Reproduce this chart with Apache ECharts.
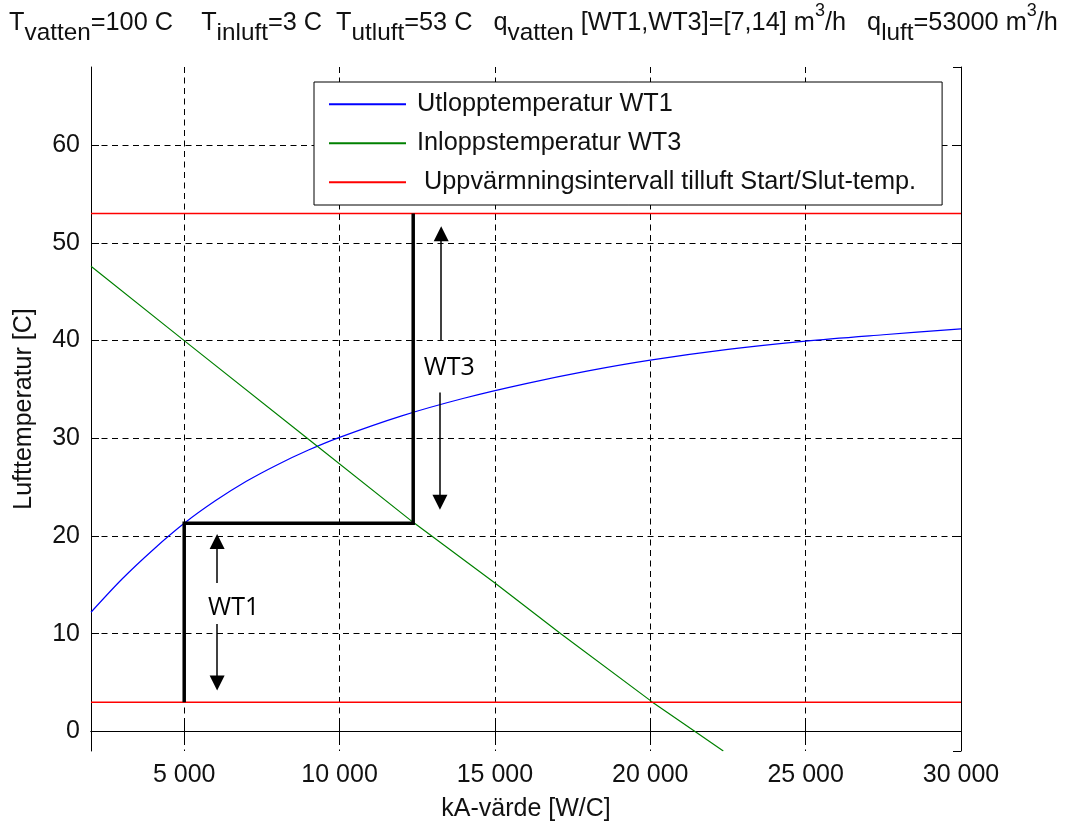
<!DOCTYPE html>
<html><head><meta charset="utf-8">
<script src="https://cdn.jsdelivr.net/npm/echarts@6/dist/echarts.min.js"></script>
<style>html,body{margin:0;padding:0;background:#fff}#c{width:1067px;height:823px}</style>
</head><body><div id="c"></div>
<script>
// ---- data ----
const kaBlue   = [2000,3000,4000,5000,6000,7000,8000,9000,10000,12000,14000,16000,18000,20000,22500,25000,27500,30000];
const tempBlue = [12.2,15.6,18.6,21.3,23.6,25.6,27.3,28.8,30.1,32.3,34.1,35.6,36.9,38.0,39.1,39.95,40.6,41.2];
const kaGreen   = [2000,5000,9000,12370,15000,17120,20070,21440,22350];
const tempGreen = [47.6,40.0,29.9,21.4,15.2,10.0,3.0,0.0,-2.0];
const kaRange = [2000, 30000];
const tempLimits = [3, 53];
const kaPath   = [5000, 5000, 12370, 12370];
const tempPath = [3, 21.3, 21.3, 53];
const arrowKa   = [6060, 6060, 13270, 13230];
const arrowFrom = [15.2, 11.0, 40.0, 34.7];
const arrowTo   = [20.2, 4.2, 51.7, 22.7];
const noteKa   = [6590, 13530];
const noteTemp = [12.6, 37.2];
const noteText = ['WT1', 'WT3'];
const seriesNames = ['Utlopptemperatur WT1', 'Inloppstemperatur WT3', ' Uppvärmningsintervall tilluft Start/Slut-temp.'];
const xMin = 2000, xMax = 30000, yMin = -2, yMax = 68;

// ---- layout ----
const G = {left: 91, right: 106, top: 67, bottom: 72};
const plotH = 823 - G.top - G.bottom;
const arrowSize = 15;
const halfArrowUnits = (arrowSize / 2) * (yMax - yMin) / plotH;

const zip = (a, b) => a.map((v, i) => [v, b[i]]);
const fmt = v => String(v).replace(/\B(?=(\d{3})+(?!\d))/g, ' ');
const FONT = 'Liberation Sans';
const FS = 25;
const txtColor = '#111';

const arrowData = arrowKa.map((x, i) => {
  const dir = Math.sign(arrowTo[i] - arrowFrom[i]);
  return {coords: [[x, arrowFrom[i]], [x, arrowTo[i] - dir * halfArrowUnits]]};
});

const gridDash = {color: '#000', width: 1, type: [6, 4.5]};

const chart = echarts.init(document.getElementById('c'), null, {renderer: 'canvas'});
chart.setOption({
  backgroundColor: '#fff',
  animation: false,
  title: {
    left: 'center', top: 2, padding: 0,
    text: '{m|T}{s|vatten}{m|=100 C    T}{s|inluft}{m|=3 C  T}{s|utluft}{m|=53 C   q}{s|vatten}{m| [WT1,WT3]=[7,14] m}{p|3}{m|/h   q}{s|luft}{m|=53000 m}{p|3}{m|/h}',
    textStyle: {
      fontWeight: 'normal',
      rich: {
        m: {fontFamily: FONT, fontSize: 25.3, fontWeight: 'normal', color: txtColor, lineHeight: 43},
        s: {fontFamily: FONT, fontSize: 24.3, fontWeight: 'normal', color: txtColor, lineHeight: 24, verticalAlign: 'bottom'},
        p: {fontFamily: FONT, fontSize: 18, fontWeight: 'normal', color: txtColor, lineHeight: 26, verticalAlign: 'top'}
      }
    }
  },
  legend: {
    data: seriesNames,
    left: 314, top: 82,
    orient: 'vertical',
    icon: 'rect',
    itemWidth: 77, itemHeight: 2, itemGap: 14,
    padding: [9.8, 26, 10.2, 15],
    borderColor: '#000', borderWidth: 1, backgroundColor: '#fff',
    textStyle: {fontFamily: FONT, fontSize: 25.3, color: txtColor, lineHeight: 25, padding: [0, 0, 0, 6]}
  },
  grid: {left: G.left, right: G.right, top: G.top, bottom: G.bottom, containLabel: false, outerBoundsMode: 'none'},
  xAxis: [{
    type: 'value', min: xMin, max: xMax, position: 'bottom',
    name: 'kA-värde [W/C]', nameLocation: 'middle', nameGap: 46,
    nameTextStyle: {fontFamily: FONT, fontSize: FS, color: txtColor},
    axisLine: {show: true, lineStyle: {color: '#000', width: 1}},
    axisTick: {show: true, inside: true, length: 8, lineStyle: {color: '#000'}},
    axisLabel: {fontFamily: FONT, fontSize: FS, color: txtColor, margin: 12, showMinLabel: false, formatter: fmt},
    splitLine: {show: true, showMinLine: false, showMaxLine: false, lineStyle: gridDash}
  }, {
    type: 'value', min: xMin, max: xMax, position: 'top',
    axisLine: {show: true, lineStyle: {color: '#000', width: 1}},
    axisTick: {show: true, inside: true, length: 8, lineStyle: {color: '#000'}},
    axisLabel: {show: false}, splitLine: {show: false}
  }],
  yAxis: [{
    type: 'value', min: yMin, max: yMax, position: 'left',
    name: 'Lufttemperatur [C]', nameLocation: 'middle', nameGap: 54,
    nameTextStyle: {fontFamily: FONT, fontSize: FS, color: txtColor},
    axisLine: {show: true, lineStyle: {color: '#000', width: 1}},
    axisTick: {show: true, inside: true, length: 8, lineStyle: {color: '#000'}},
    axisLabel: {fontFamily: FONT, fontSize: FS, color: txtColor, margin: 11, showMinLabel: false, showMaxLabel: false},
    splitLine: {show: true, showMinLine: false, showMaxLine: false, lineStyle: gridDash}
  }, {
    type: 'value', min: yMin, max: yMax, position: 'right',
    axisLine: {show: true, lineStyle: {color: '#000', width: 1}},
    axisTick: {show: true, inside: true, length: 8, lineStyle: {color: '#000'}},
    axisLabel: {show: false}, splitLine: {show: false}
  }],
  series: [
    {name: seriesNames[0], type: 'line', data: zip(kaBlue, tempBlue), smooth: 0.3, symbol: 'none',
     color: '#0000ff', lineStyle: {color: '#0000ff', width: 1.2}},
    {name: seriesNames[1], type: 'line', data: zip(kaGreen, tempGreen), symbol: 'none',
     color: '#008000', lineStyle: {color: '#008000', width: 1.2}},
    {name: seriesNames[2], type: 'line', data: kaRange.map(x => [x, tempLimits[0]]), symbol: 'none',
     color: '#ff0000', lineStyle: {color: '#ff0000', width: 1.5}},
    {name: seriesNames[2], type: 'line', data: kaRange.map(x => [x, tempLimits[1]]), symbol: 'none',
     color: '#ff0000', lineStyle: {color: '#ff0000', width: 1.5}},
    {name: 'path', type: 'line', data: zip(kaPath, tempPath), symbol: 'none',
     lineStyle: {color: '#000', width: 3.5, join: 'miter', cap: 'butt'}, z: 5},
    {name: 'arrows', type: 'lines', coordinateSystem: 'cartesian2d', data: arrowData,
     symbol: ['none', 'triangle'], symbolSize: arrowSize,
     lineStyle: {color: '#000', width: 1.5, opacity: 1}, z: 6},
    {name: 'notes', type: 'scatter', data: noteKa.map((x, i) => ({value: [x, noteTemp[i]], name: noteText[i]})),
     symbolSize: 1, itemStyle: {color: 'rgba(0,0,0,0)'},
     label: {show: true, position: 'inside', formatter: '{b}', fontFamily: 'Open Sans', fontSize: 25, color: '#000', opacity: 1}, z: 7}
  ]
});
</script></body></html>
